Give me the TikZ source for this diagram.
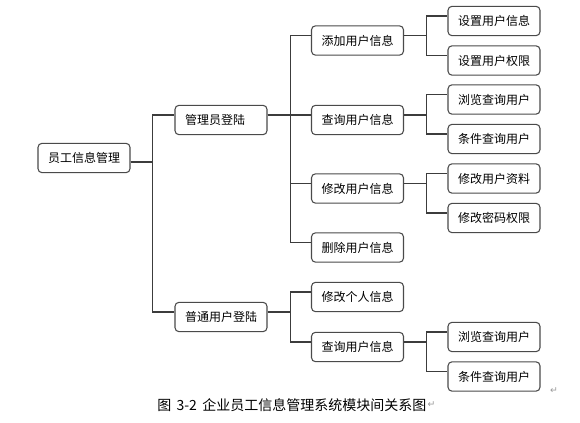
\documentclass[tikz,border=0pt]{standalone}
\usepackage{fontspec}
\setmainfont{Noto Sans CJK SC}
\newfontfamily\symfont{DejaVu Sans}
\usepackage{xcolor}
\definecolor{box-line}{HTML}{4A4A4A}
\definecolor{link-line}{HTML}{3C3C3C}
\definecolor{mark-gray}{HTML}{9A9A9A}

\begin{document}
\begin{tikzpicture}[x=0.75pt, y=-0.75pt,
    every node/.style={font=\fontsize{9}{11}\selectfont},
    box/.style={draw=box-line, line width=0.8pt, rounded corners=3pt, fill=white,
      text width=54pt, inner xsep=7.5pt, minimum height=22pt, align=left},
    link/.style={draw=link-line, line width=0.8pt}]
    \useasboundingbox (0, 0) rectangle (580, 423);
    % level 0 and 1
    \node[box] (root) at (84, 158) {员工信息管理};
    \node[box] (admin) at (221, 120) {管理员登陆};
    \node[box] (user) at (221, 317) {普通用户登陆};
    % level 2
    \node[box] (add) at (357.5, 40.5) {添加用户信息};
    \node[box] (query) at (357.5, 120) {查询用户信息};
    \node[box] (modify) at (357.5, 188.5) {修改用户信息};
    \node[box] (delete) at (357.5, 247.5) {删除用户信息};
    \node[box] (self) at (357.5, 297) {修改个人信息};
    \node[box] (uquery) at (357.5, 347) {查询用户信息};
    % level 3
    \node[box] (setinfo) at (494, 21) {设置用户信息};
    \node[box] (setright) at (494, 60.5) {设置用户权限};
    \node[box] (browse) at (494, 99.5) {浏览查询用户};
    \node[box] (cond) at (494, 139) {条件查询用户};
    \node[box] (modinfo) at (494, 178.5) {修改用户资料};
    \node[box] (modpwd) at (494, 218) {修改密码权限};
    \node[box] (ubrowse) at (494, 337) {浏览查询用户};
    \node[box] (ucond) at (494, 376.5) {条件查询用户};
    % connectors
    \foreach \kid in {admin, user}
      \draw[link] ([yshift=-3pt]root.east) -- ++(16.5pt, 0) |- ([yshift=3.75pt]\kid.west);
    \foreach \kid in {add, query, modify, delete}
      \draw[link] ([yshift=3.75pt]admin.east) -- ++(17pt, 0) |- ([yshift=3.75pt]\kid.west);
    \foreach \kid in {self, uquery}
      \draw[link] ([yshift=3.75pt]user.east) -- ++(17pt, 0) |- ([yshift=3.75pt]\kid.west);
    \foreach \kid in {setinfo, setright}
      \draw[link] ([yshift=3.75pt]add.east) -- ++(17pt, 0) |- ([yshift=3.75pt]\kid.west);
    \foreach \kid in {browse, cond}
      \draw[link] ([yshift=3.75pt]query.east) -- ++(17pt, 0) |- ([yshift=3.75pt]\kid.west);
    \foreach \kid in {modinfo, modpwd}
      \draw[link] ([yshift=3.75pt]modify.east) -- ++(17pt, 0) |- ([yshift=3.75pt]\kid.west);
    \foreach \kid in {ubrowse, ucond}
      \draw[link] ([yshift=3.75pt]uquery.east) -- ++(17pt, 0) |- ([yshift=3.75pt]\kid.west);
    % caption and paragraph marks
    \node[anchor=west, inner sep=0pt, font=\fontsize{10.5}{12}\selectfont] (caption)
      at (157, 405) {图\hspace{4pt}3-2\hspace{4pt}企业员工信息管理系统模块间关系图};
    \node[anchor=west, inner sep=0.5pt, text=mark-gray, font=\symfont\fontsize{7}{8}\selectfont]
      (capmark) at (caption.east) {↵};
    \node[text=mark-gray, font=\symfont\fontsize{7}{8}\selectfont] (endmark) at (554, 391) {↵};
  \end{tikzpicture}
\end{document}
